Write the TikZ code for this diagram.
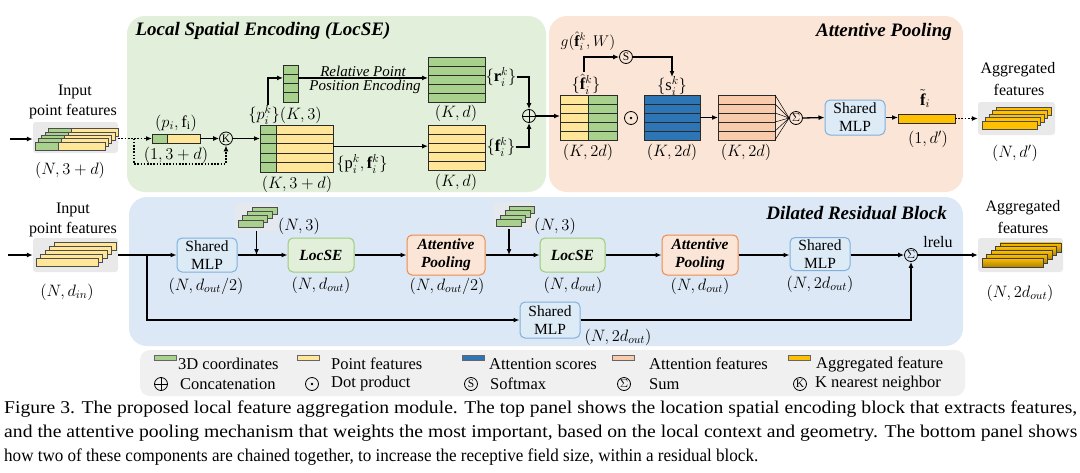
\RequirePackage{fix-cm}
\documentclass[tikz,border=0pt]{standalone}
\usepackage{fontspec}
\setmainfont{Liberation Serif}
\usepackage{graphicx}
\usetikzlibrary{arrows.meta,calc}
\definecolor{pgreen}{HTML}{E2EFDA}
\definecolor{ppeach}{HTML}{FBE5D6}
\definecolor{pblue}{HTML}{DCE8F5}
\definecolor{pgray}{HTML}{F0F0F0}
\definecolor{sbg}{HTML}{E9E9E9}
\definecolor{cgreen}{HTML}{A9D18E}
\definecolor{cyellow}{HTML}{FFE699}
\definecolor{cblue}{HTML}{2E75B6}
\definecolor{cpeach}{HTML}{F8CBAD}
\definecolor{cgold}{HTML}{FFC000}
\definecolor{cdgold}{HTML}{D9A300}
\definecolor{bgreen}{HTML}{9CCB7C}
\definecolor{borange}{HTML}{F08A4B}
\definecolor{bblue}{HTML}{7FB0DE}
\definecolor{mfill}{HTML}{DDEBF7}
\definecolor{tline}{HTML}{2A2A2A}
\newcommand{\rowlines}[2]{%
  \pgfmathtruncatemacro{\nmo}{#2-1}%
  \foreach \k in {1,...,\nmo}{%
    \draw[tblline] ($(#1.north west)!{\k/#2}!(#1.south west)$) -- ($(#1.north east)!{\k/#2}!(#1.south east)$);}}
% x y w h dx dy greenwidth
\newcommand{\twostack}[7]{%
  \foreach \i in {4,3,2,1,0}{%
    \draw[stk,fill=cyellow] ({#1+#5*\i},{#2-#6*\i}) rectangle ++(#3,#4);
    \draw[stk,fill=cgreen] ({#1+#5*\i},{#2-#6*\i}) rectangle ++(#7,#4);}}
% x y w h dx dy n fill
\newcommand{\onestack}[8]{%
  \foreach \i in {#7,...,0}{%
    \draw[stk,fill=#8] ({#1+#5*\i},{#2-#6*\i}) rectangle ++(#3,#4);}}
\begin{document}
\begin{tikzpicture}[x=1pt,y=-1pt,
  arr/.style={-{Latex[length=6pt,width=5pt]}, line width=1.3pt},
  dotarr/.style={arr, dash pattern=on 1.7pt off 1.5pt},
  plainline/.style={line width=1.3pt},
  tbl/.style={draw=tline, line width=0.8pt, inner sep=0, outer sep=0},
  tblline/.style={draw=tline, line width=0.8pt},
  stk/.style={draw=black!70, line width=0.6pt},
  sbgbox/.style={fill=sbg, rounded corners=3pt, inner sep=0},
  txt/.style={font=\fontsize{16}{18}\selectfont, inner sep=0},
  itl/.style={font=\fontsize{15}{17}\selectfont\itshape, inner sep=0},
  lbl/.style={font=\fontsize{16.5}{18}\selectfont, inner sep=0},
  ttl/.style={font=\fontsize{19}{21}\selectfont\bfseries\itshape, inner sep=0},
  opc/.style={circle, draw, line width=0.8pt, minimum size=13pt, inner sep=0, font=\fontsize{11.5}{11.5}\selectfont},
  oplus/.style={circle, draw, line width=0.8pt, minimum size=13pt, inner sep=0,
    path picture={\draw[line width=0.8pt] (path picture bounding box.north) -- (path picture bounding box.south) (path picture bounding box.west) -- (path picture bounding box.east);}},
  odot/.style={circle, draw, line width=0.8pt, minimum size=13pt, inner sep=0,
    path picture={\fill (path picture bounding box.center) circle (1.4pt);}},
  mlpbox/.style={draw=bblue, fill=mfill, line width=1pt, rounded corners=5pt, align=center, inner sep=0, font=\fontsize{15.5}{18}\selectfont},
  locbox/.style={draw=bgreen, fill=pgreen, line width=1pt, rounded corners=5pt, inner sep=0, font=\fontsize{15.5}{18}\selectfont\bfseries\itshape},
  apbox/.style={draw=borange, fill=ppeach, line width=1pt, rounded corners=5pt, align=center, inner sep=0, font=\fontsize{15.5}{18}\selectfont\bfseries\itshape},
  swatch/.style={draw=black!60, line width=0.5pt, minimum width=22pt, minimum height=5pt, inner sep=0},
  legtxt/.style={font=\fontsize{16.5}{18}\selectfont, inner sep=0, anchor=west},
  captxt/.style={font=\fontsize{18}{20}\selectfont, inner sep=0, anchor=base west}
]
\useasboundingbox (0,0) rectangle (1080,472);
\fill[white] (0,0) rectangle (1080,472);

% ---------- panels ----------
\fill[pgreen, rounded corners=18pt] (127,16) rectangle (546,192);
\fill[ppeach, rounded corners=18pt] (549,16) rectangle (963,192);
\fill[pblue, rounded corners=18pt] (129,197) rectangle (963,346);
\fill[pgray, rounded corners=10pt] (140,350) rectangle (965,396);

\node[ttl] (tLoc) at (263,31) {Local Spatial Encoding (LocSE)};
\node[ttl, anchor=east] (tAP) at (952,32) {Attentive Pooling};
\node[ttl, anchor=east] (tDR) at (947,213) {Dilated Residual Block};

% ---------- top: input ----------
\node[txt] (inA1) at (75,92) {Input};
\node[txt] (inA2) at (73,112) {point features};
\node[sbgbox, minimum width=85pt, minimum height=31pt] (inS) at (75.5,137.5) {};
\twostack{35}{142}{70}{8}{3.3}{3.4}{23}
\node[lbl] (inAd) at (70,170) {$(N,3+d)$};
\coordinate (inA) at (10,139);
\draw[arr] (inA) -- (inA -| inS.west);

% p_i bar
\node[tbl, fill=cyellow, minimum width=48pt, minimum height=9pt] (pb) at (176,138.5) {};
\fill[cgreen] (pb.north west) rectangle ($(pb.south west)+(15,0)$);
\draw[tblline] ($(pb.north west)+(15,0)$) -- ($(pb.south west)+(15,0)$);
\draw[tblline] (pb.north west) rectangle (pb.south east);
\node[lbl] (pbl) at (176,123) {$(p_i,\mathrm{f}_\mathrm{i})$};
\node[lbl] (pbd) at (176,155) {$(1,3+d)$};

\node[opc] (K) at (226,138.5) {K};
\coordinate (dbr) at (134,138.5);
\draw[dotarr] (inS.east |- pb.west) -- (pb.west);
\draw[dotarr] (dbr) -- (134,164) -| (K.south);
\draw[arr] (pb.east) -- (K.west);

% big table
\node[tbl, fill=cyellow, minimum width=73pt, minimum height=47pt] (bt) at (296.5,148.5) {};
\fill[cgreen] (bt.north west) rectangle ($(bt.south west)+(16,0)$);
\rowlines{bt}{5}
\draw[tblline] ($(bt.north west)+(16,0)$) -- ($(bt.south west)+(16,0)$);
\draw[tblline] (bt.north west) rectangle (bt.south east);
\node[lbl] (btd) at (297,184) {$(K,3+d)$};
\draw[arr] (K.east) -- (K.east -| bt.west);

% p column
\node[tbl, fill=cgreen, minimum width=15pt, minimum height=37pt] (pc) at (290.5,83.5) {};
\rowlines{pc}{4}
\node[lbl] (pcl) at (285,115) {$\{p_i^k\}(K,3)$};
\coordinate (pcin) at (268,105);
\draw[arr] (pcin) |- ($(pc.north west)!0.35!(pc.south west)$);

% r table
\node[tbl, fill=cgreen, minimum width=57pt, minimum height=45pt] (rk) at (456.5,79.5) {};
\rowlines{rk}{5}
\coordinate (pcout) at ($(pc.north east)!0.35!(pc.south east)$);
\draw[arr] (pcout) -- (pcout -| rk.west);
\node[itl, anchor=south] (rel1) at (363,77) {Relative Point};
\node[itl, anchor=north] (rel2) at (365,80) {Position Encoding};
\node[lbl] (rkd) at (456,113) {$(K,d)$};
\node[lbl] (rkl) at (501,77) {$\{\mathbf{r}_i^k\}$};

% f table
\node[tbl, fill=cyellow, minimum width=57pt, minimum height=45pt] (fk) at (456.5,147.5) {};
\rowlines{fk}{5}
\coordinate (btout) at ($(bt.north east)!0.45!(bt.south east)$);
\draw[arr] (btout) -- (btout -| fk.west);
\node[lbl] (pfl) at (362,164) {$\{\mathrm{p}_i^k,\mathbf{f}_i^k\}$};
\node[lbl] (fkd) at (456,182) {$(K,d)$};
\node[lbl] (fkl) at (501,147) {$\{\mathbf{f}_i^k\}$};

\node[oplus] (op) at (529,116) {};
\draw[arr] (rkl.east) -| (op.north);
\draw[arr] (fkl.east) -| (op.south);

% ---------- attentive pooling ----------
\node[tbl, fill=cyellow, minimum width=57pt, minimum height=45pt] (fh) at (588.5,117.5) {};
\fill[cgreen] (fh.north) rectangle (fh.south east);
\rowlines{fh}{5}
\draw[tblline] (fh.north) -- (fh.south);
\draw[tblline] (fh.north west) rectangle (fh.south east);
\draw[arr] (op.east) -- (op.east -| fh.west);
\node[lbl] (fhl) at (586,84) {$\{\hat{\mathbf{f}}_i^k\}$};
\node[lbl, font=\fontsize{15.5}{17}\selectfont] (gl) at (588,41) {$g(\hat{\mathbf{f}}_i^k,W)$};
\node[lbl] (fhd) at (588,152) {$(K,2d)$};

\node[opc] (S) at (626,57) {S};
\coordinate (gup) at (584,72);
\draw[arr] (gup) |- (S.west);
\coordinate (sdown) at (672,77);
\draw[arr] (S.east) -| (sdown);
\node[lbl] (sl) at (672,86) {$\{\mathrm{s}_i^k\}$};

\node[odot] (dot) at (631,118) {};
\node[tbl, fill=cblue, minimum width=56pt, minimum height=45pt] (bl) at (672,117.5) {};
\rowlines{bl}{5}
\node[lbl] (bld) at (672,152) {$(K,2d)$};

\node[tbl, fill=cpeach, minimum width=57pt, minimum height=45pt] (pe) at (746.5,117.5) {};
\rowlines{pe}{5}
\node[lbl] (ped) at (746,152) {$(K,2d)$};
\draw[arr] (bl.east) -- (pe.west);

\node[opc] (sig) at (796,118) {$\Sigma$};
\foreach \k in {0,...,5}{\draw[line width=0.5pt] ($(pe.north east)!{\k/5}!(pe.south east)$) -- (sig.west);}

\node[mlpbox, minimum width=60pt, minimum height=35pt] (mlpT) at (855,117.5) {Shared\\MLP};
\draw[arr] (sig.east) -- (mlpT.west);

\node[tbl, fill=cgold, minimum width=57pt, minimum height=9pt] (ft) at (926.5,118.5) {};
\node[lbl] (ftl) at (925,99) {$\tilde{\mathbf{f}}_i$};
\node[lbl] (ftd) at (928,139) {$(1,d')$};
\draw[arr] (mlpT.east) -- (mlpT.east -| ft.west);

\node[sbgbox, minimum width=77pt, minimum height=33pt] (outS) at (1016.5,118.5) {};
\onestack{982}{121}{55}{8}{3.5}{3.5}{4}{cgold}
\draw[dotarr] (ft.east) -- (ft.east -| outS.west);
\node[txt] (oA1) at (1018,70) {Aggregated};
\node[txt] (oA2) at (1019,90) {features};
\node[lbl] (oAd) at (1015,153) {$(N,d')$};

% ---------- bottom ----------
\node[txt] (inB1) at (73,210) {Input};
\node[txt] (inB2) at (73,230) {point features};
\node[sbgbox, minimum width=85pt, minimum height=34pt] (inS2) at (75.5,255) {};
\onestack{36}{258}{62}{8}{4.5}{4}{4}{cyellow}
\node[lbl] (inBd) at (67,292) {$(N,d_{in})$};
\coordinate (inB) at (8,255);
\draw[arr] (inB) -- (inS2.west);

\node[mlpbox, minimum width=60pt, minimum height=34pt] (mlp1) at (207,255) {Shared\\MLP};
\node[lbl] (mlp1d) at (206,286) {$(N,d_{out}/2)$};
\draw[arr] (inS2.east) -- (mlp1.west);
\coordinate (br) at (147,255);

\node[locbox, minimum width=66pt, minimum height=34pt] (ls1) at (321,255) {LocSE};
\node[lbl] (ls1d) at (321,285) {$(N,d_{out})$};
\draw[arr] (mlp1.east) -- (ls1.west);
\node[sbgbox, minimum width=43pt, minimum height=28pt, fill=sbg!70!pblue] (gs1) at (256.5,217) {};
\onestack{238}{220}{25}{7}{4.7}{4.3}{3}{cgreen}
\draw[arr] (gs1.south) -- (gs1.south |- ls1.west);
\node[lbl] (gs1d) at (299,226) {$(N,3)$};

\node[apbox, minimum width=78pt, minimum height=40pt] (ap1) at (446,255) {Attentive\\Pooling};
\node[lbl] (ap1d) at (447,286) {$(N,d_{out}/2)$};
\draw[arr] (ls1.east) -- (ap1.west);

\node[locbox, minimum width=65pt, minimum height=34pt] (ls2) at (572.5,255) {LocSE};
\node[lbl] (ls2d) at (573,285) {$(N,d_{out})$};
\draw[arr] (ap1.east) -- (ls2.west);
\node[sbgbox, minimum width=42pt, minimum height=27pt, fill=sbg!70!pblue] (gs2) at (514,215.5) {};
\onestack{496}{219}{25}{7}{4.5}{4.2}{3}{cgreen}
\coordinate (gs2b) at (509,229);
\draw[arr] (gs2b) -- (gs2b |- ls2.west);
\node[lbl] (gs2d) at (555,226) {$(N,3)$};

\node[apbox, minimum width=76pt, minimum height=40pt] (ap2) at (700,255) {Attentive\\Pooling};
\node[lbl] (ap2d) at (700,286) {$(N,d_{out})$};
\draw[arr] (ls2.east) -- (ap2.west);

\node[mlpbox, minimum width=60pt, minimum height=33pt] (mlp2) at (820,254) {Shared\\MLP};
\node[lbl] (mlp2d) at (820,284) {$(N,2d_{out})$};
\draw[arr] (ap2.east) -- (ap2.east -| mlp2.west);

\node[opc] (sig2) at (911,255) {$\Sigma$};
\draw[arr] (mlp2.east |- sig2.west) -- (sig2.west);
\node[txt] (lrelu) at (938,242) {lrelu};

\node[sbgbox, minimum width=85pt, minimum height=34pt] (outS2) at (1020.5,255) {};
\foreach \i in {4,3,2,1,0}{%
  \draw[draw=black!75, line width=0.6pt, top color=cgold, bottom color=cdgold!80!black] ({982+4.5*\i},{258-3.8*\i}) rectangle ++(61,9);}
\draw[arr] (sig2.east) -- (outS2.west);
\node[txt] (oB1) at (1023,208) {Aggregated};
\node[txt] (oB2) at (1023,228) {features};
\node[lbl] (oBd) at (1020,293) {$(N,2d_{out})$};

\node[mlpbox, minimum width=60pt, minimum height=36pt] (mlp3) at (550,320) {Shared\\MLP};
\node[lbl] (mlp3d) at (618,337) {$(N,2d_{out})$};
\draw[plainline] (inS2.east) -- (br);
\draw[arr] (br) |- (mlp3.west);
\draw[arr] (mlp3.east) -| (sig2.south);

% ---------- legend ----------
\node[swatch, fill=cgreen] (lw1) at (165,358) {};
\node[legtxt] (lt1) at (178,364) {3D coordinates};
\node[swatch, fill=cyellow] (lw2) at (308,358) {};
\node[legtxt] (lt2) at (331,364) {Point features};
\node[swatch, fill=cblue] (lw3) at (473,358) {};
\node[legtxt] (lt3) at (489,364) {Attention scores};
\node[swatch, fill=cpeach] (lw4) at (623,358) {};
\node[legtxt] (lt4) at (649,364) {Attention features};
\node[swatch, fill=cgold] (lw5) at (799,358) {};
\node[legtxt] (lt5) at (816,364) {Aggregated feature};

\node[oplus] (lo1) at (161,384) {};
\node[legtxt] (lu1) at (180,384) {Concatenation};
\node[odot] (lo2) at (312,384) {};
\node[legtxt] (lu2) at (331,384) {Dot product};
\node[opc] (lo3) at (471,384) {S};
\node[legtxt] (lu3) at (490,384) {Softmax};
\node[opc] (lo4) at (624,384) {$\Sigma$};
\node[legtxt] (lu4) at (649,384) {Sum};
\node[opc] (lo5) at (800,384) {K};
\node[legtxt] (lu5) at (815,384) {K nearest neighbor};

% ---------- caption ----------
\node[captxt] (c1) at (4,413) {\resizebox{1073pt}{\height}{Figure 3. The proposed local feature aggregation module. The top panel shows the location spatial encoding block that extracts features,}};
\node[captxt] (c2) at (4,437) {\resizebox{1073pt}{\height}{and the attentive pooling mechanism that weights the most important, based on the local context and geometry. The bottom panel shows}};
\node[captxt] (c3) at (4,461) {\resizebox{754pt}{\height}{how two of these components are chained together, to increase the receptive field size, within a residual block.}};
\end{tikzpicture}
\end{document}
